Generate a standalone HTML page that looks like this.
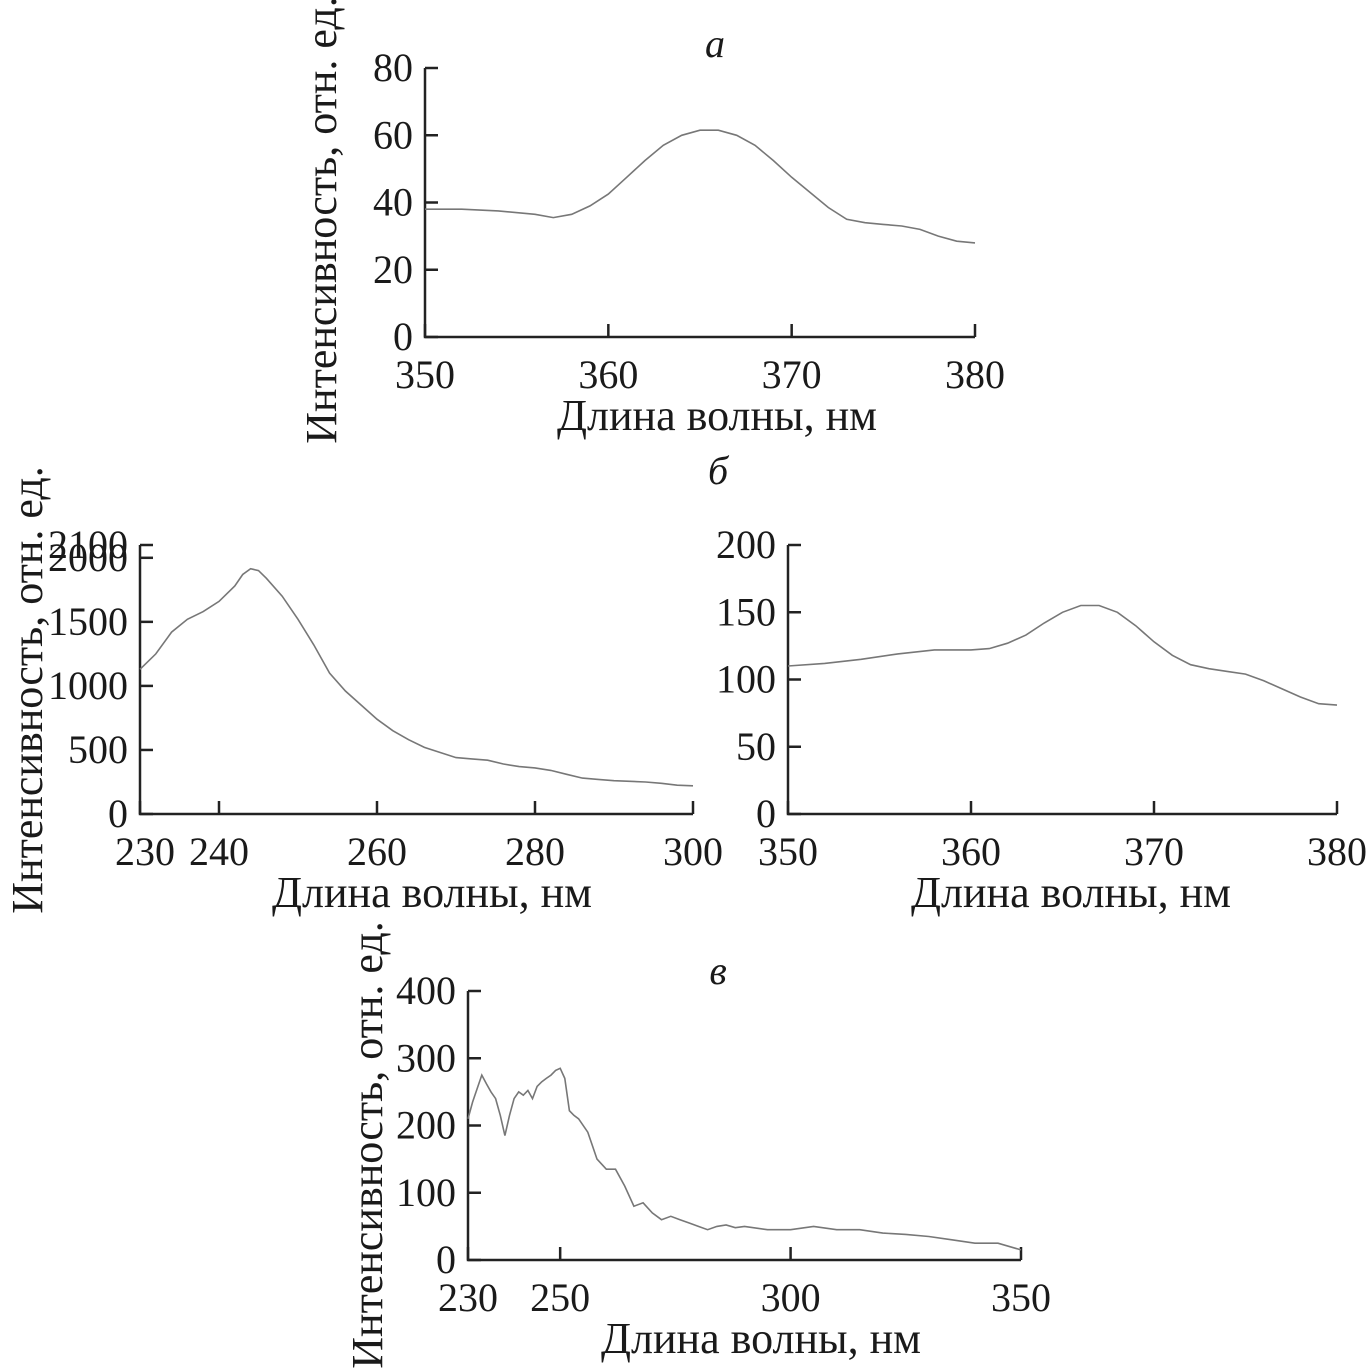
<!DOCTYPE html>
<html><head><meta charset="utf-8">
<style>
html,body{margin:0;padding:0;background:#fff;}
svg{display:block;}
text{font-family:"Liberation Serif",serif;fill:#1a1a1a;}
</style></head>
<body>
<svg id="fig" width="1371" height="1368" viewBox="0 0 1371 1368" xmlns="http://www.w3.org/2000/svg"></svg>
<script>
// Panel a
const aX = [350,352,354,356,357,358,359,360,361,362,363,364,365,366,367,368,369,370,371,372,373,374,375,376,377,378,379,380];
const aY = [38,38,37.5,36.5,35.5,36.5,39,42.5,47.5,52.5,57,60,61.5,61.5,60,57,52.5,47.5,43,38.5,35,34,33.5,33,32,30,28.5,28];
const aXTicks = [350,360,370,380];
const aYTicks = [0,20,40,60,80];
// Panel б left
const bLX = [230,232,234,236,238,240,242,243,244,245,246,248,250,252,254,256,258,260,262,264,266,268,270,272,274,276,278,280,282,284,286,288,290,292,294,296,298,300];
const bLY = [1130,1250,1420,1520,1580,1660,1780,1870,1915,1900,1840,1700,1520,1320,1100,960,850,740,650,580,520,480,440,430,420,390,370,360,340,310,280,270,260,255,250,240,225,220];
const bLXTicks = [230,240,260,280,300];
const bLYTicks = [0,500,1000,1500,2000,2100];
// Panel б right
const bRX = [350,352,354,356,358,360,361,362,363,364,365,366,367,368,369,370,371,372,373,374,375,376,377,378,379,380];
const bRY = [110,112,115,119,122,122,123,127,133,142,150,155,155,150,140,128,118,111,108,106,104,99,93,87,82,81];
const bRXTicks = [350,360,370,380];
const bRYTicks = [0,50,100,150,200];
// Panel в
const cX = [230,231,232,233,234,235,236,237,238,239,240,241,242,243,244,245,246,247,248,249,250,251,252,253,254,256,258,260,262,264,266,268,270,272,274,276,278,280,282,284,286,288,290,295,300,305,310,315,320,325,330,335,340,345,350];
const cY = [210,235,255,275,262,250,240,215,185,215,240,250,245,252,240,258,265,270,275,282,285,270,222,215,210,190,150,135,135,110,80,85,70,60,65,60,55,50,45,50,52,48,50,45,45,50,45,45,40,38,35,30,25,25,15];
const cXTicks = [230,250,300,350];
const cYTicks = [0,100,200,300,400];

const NS = "http://www.w3.org/2000/svg";
const svg = document.getElementById('fig');
function el(tag, attrs, parent){
  const e = document.createElementNS(NS, tag);
  for (const k in attrs) e.setAttribute(k, attrs[k]);
  (parent||svg).appendChild(e);
  return e;
}

function panel(id, P){
  const g = el('g', {});
  
  
  const sx = v => P.x0 + (v - P.xmin) / (P.xmax - P.xmin) * (P.x1 - P.x0);
  const sy = v => P.y0 - (v - P.ymin) / (P.ymax - P.ymin) * (P.y0 - P.y1);
  const ax = el('path', {d:`M${P.x0} ${P.y1} V${P.y0} H${P.x1}`, fill:'none', stroke:'#222', 'stroke-width':2.5}, g);
  
  
  P.xt.forEach(v => {
    const x = sx(v);
    el('line', {x1:x, x2:x, y1:P.y0, y2:P.y0-13, stroke:'#222', 'stroke-width':2.5}, g);
    const t = el('text', {x:x + (P.xoff && P.xoff[v] || 0), y:P.y0+51, 'font-size':40, 'text-anchor':'middle'}, g);
    t.textContent = v;
    
    
  });
  P.yt.forEach(v => {
    const y = sy(v);
    el('line', {x1:P.x0, x2:P.x0+13, y1:y, y2:y, stroke:'#222', 'stroke-width':2.5}, g);
    const t = el('text', {x:P.x0-12, y:y+13, 'font-size':40, 'text-anchor':'end'}, g);
    t.textContent = v;
    
    
  });
  const d = P.xs.map((v,i) => (i?'L':'M') + sx(v).toFixed(1) + ' ' + sy(P.ys[i]).toFixed(1)).join(' ');
  const line = el('path', {d, fill:'none', stroke:'#777', 'stroke-width':1.6}, g);
  
  
  const xl = el('text', {x:P.xtc, y:P.y0+93, 'font-size':44, 'text-anchor':'middle'}, g);
  xl.textContent = 'Длина волны, нм';
  
  
  if (P.ytx) {
    const yl = el('text', {x:0, y:0, 'font-size':44, 'text-anchor':'middle', transform:`translate(${P.ytx} ${P.yty}) rotate(-90)`}, g);
    yl.textContent = 'Интенсивность, отн. ед.';
    
    
  }
}

panel('a', {x0:425,x1:975,y0:337,y1:68,xmin:350,xmax:380,ymin:0,ymax:80,xt:aXTicks,yt:aYTicks,xs:aX,ys:aY,ytx:336,yty:220,xtc:717});
panel('b-left', {x0:140,x1:693,y0:814,y1:545,xmin:230,xmax:300,ymin:0,ymax:2100,xt:bLXTicks,yt:bLYTicks,xs:bLX,ys:bLY,ytx:42,yty:690,xoff:{230:5},xtc:432});
panel('b-right', {x0:788,x1:1337,y0:814,y1:545,xmin:350,xmax:380,ymin:0,ymax:200,xt:bRXTicks,yt:bRYTicks,xs:bRX,ys:bRY,xtc:1071});
panel('c', {x0:468,x1:1021,y0:1260,y1:991,xmin:230,xmax:350,ymin:0,ymax:400,xt:cXTicks,yt:cYTicks,xs:cX,ys:cY,ytx:382,yty:1145,xtc:761});

[['a',715,57],['б',718,484],['в',718,984]].forEach(([s,x,y]) => {
  const t = el('text', {x, y, 'font-size':40, 'font-style':'italic', 'text-anchor':'middle'});
  t.textContent = s;
  
  
});
</script>
</body></html>
